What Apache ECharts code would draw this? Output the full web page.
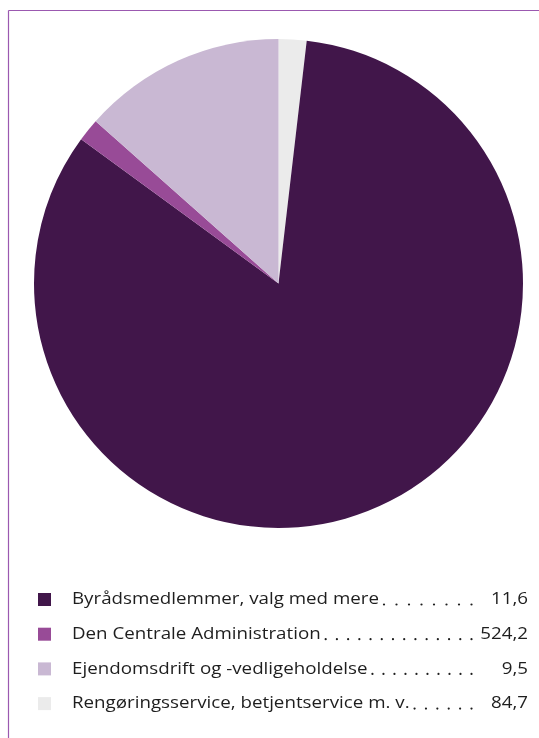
<!DOCTYPE html>
<html>
<head>
<meta charset="utf-8">
<script src="https://cdn.jsdelivr.net/npm/echarts@6/dist/echarts.min.js"></script>
<style>
  html, body { margin: 0; padding: 0; background: #fff; }
  #chart { width: 539px; height: 738px; }
</style>
</head>
<body>
<div id="chart"></div>
<script>
// data
var categories = ['Byrådsmedlemmer, valg med mere', 'Den Centrale Administration', 'Ejendomsdrift og -vedligeholdelse', 'Rengøringsservice, betjentservice m. v.'];
var values = [11.6, 524.2, 9.5, 84.7];
var valueLabels = ['11,6', '524,2', '9,5', '84,7'];
var legendColors = ['#41164a', '#984b97', '#c9b8d3', '#ebebeb'];
// slice colours in the original are shifted by one from the legend
var sliceColors = ['#ebebeb', '#41164a', '#984b97', '#c9b8d3'];

var FONT = '"Open Sans", sans-serif';
var FONT_SIZE = 17;

function measure(txt){
	var c = document.createElement('canvas').getContext('2d');
	c.font = FONT_SIZE + 'px ' + FONT;
	return c.measureText(txt).width;
}

var pieData = [];
for(var i = 0; i < values.length; ++i){
	pieData.push({name: categories[i], value: values[i], itemStyle: {color: sliceColors[i]}});
}

var graphics = [];
// frame lines top and left
graphics.push({type: 'line', shape: {x1: 8.5, y1: 10.5, x2: 539, y2: 10.5}, style: {stroke: '#9b59b0', lineWidth: 1.2}});
graphics.push({type: 'line', shape: {x1: 8.5, y1: 10.5, x2: 8.5, y2: 738}, style: {stroke: '#9b59b0', lineWidth: 1.2}});

// legend rows: square, name, dot leader, value
var rowTop = 593, rowStep = 34.7, lastDot = 471.5, dotStep = 11, valueRight = 528, textLeft = 72;
// stretch text horizontally so the first name spans like the original's wide face
var sx = 307 / measure(categories[0]);
var textStyle = {font: FONT_SIZE + 'px ' + FONT, fill: '#1e1e1e', verticalAlign: 'middle'};
for(var i = 0; i < categories.length; ++i){
	var y = rowTop + i * rowStep;
	var nameEnd = textLeft + measure(categories[i]) * sx;
	graphics.push({type: 'rect', shape: {x: 38, y: y, width: 13, height: 13}, style: {fill: legendColors[i]}});
	graphics.push({type: 'text', x: textLeft, y: y + 6.5, scaleX: sx,
		style: echarts.util.extend({text: categories[i], align: 'left'}, textStyle)});
	var first = nameEnd + 5;
	var n = Math.floor((lastDot - first) / dotStep) + 1;
	var step = (lastDot - first) / (n - 1);
	for(var k = 0; k < n; ++k){
		graphics.push({type: 'circle', shape: {cx: first + k * step, cy: y + 11.5, r: 1.1}, style: {fill: '#1e1e1e'}});
	}
	graphics.push({type: 'text', x: valueRight, y: y + 6.5, scaleX: sx,
		style: echarts.util.extend({text: valueLabels[i], align: 'right'}, textStyle)});
}

var option = {
	animation: false,
	series: [{
		type: 'pie',
		radius: 244.5,
		center: [278.5, 283.5],
		startAngle: 90,
		clockwise: true,
		label: {show: false},
		labelLine: {show: false},
		emphasis: {disabled: true},
		data: pieData
	}],
	graphic: graphics
};

var myChart = echarts.init(document.getElementById('chart'));
myChart.setOption(option);
</script>
</body>
</html>
